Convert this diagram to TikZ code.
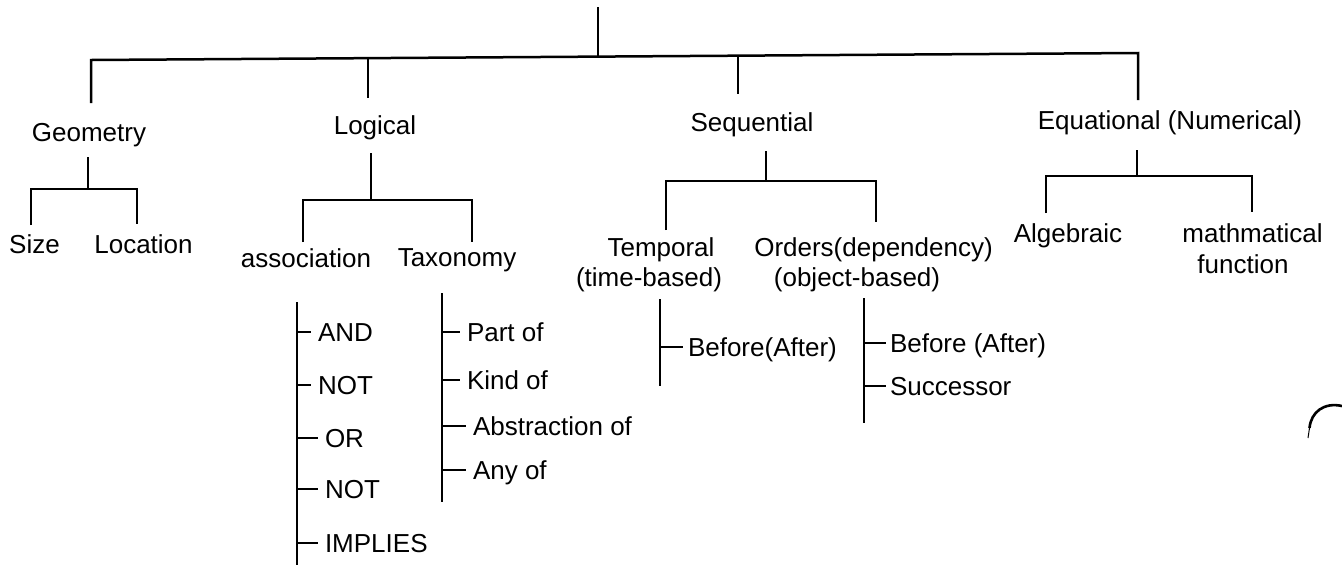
\documentclass[tikz,border=0pt]{standalone}
\usepackage{fontspec}
\setmainfont{Liberation Sans}
\begin{document}
\begin{tikzpicture}[x=1pt,y=-1pt,
  lbl/.style={font=\fontsize{26}{31}\selectfont, inner sep=0pt, outer sep=0pt},
  cat/.style={lbl, anchor=base},
  leaf/.style={lbl, text height=18.7pt, text depth=0pt, anchor=west},
  ln/.style={line width=2pt, line join=miter},
  bus/.style={line width=2.5pt, line join=miter},
  tick/.style={line width=2pt, shorten >=7pt},
]
\fill[white] (0,0) rectangle (1342,566);
\useasboundingbox (0,0) rectangle (1342,566);

% ---------- top level ----------
\coordinate (rootTop) at (598,7);
\coordinate (rootJ)   at (598,56.6);
\coordinate (geoJ)    at (91,60);
\coordinate (geoEnd)  at (91,103);
\coordinate (logJ)    at (368,58.1);
\coordinate (logEnd)  at (368,98);
\coordinate (seqJ)    at (738,55.7);
\coordinate (seqEnd)  at (738,94);
\coordinate (eqJ)     at (1138,53);
\coordinate (eqEnd)   at (1138,100);

\draw[ln]  (rootTop) -- (rootJ);
\draw[bus] (geoEnd) -- (geoJ) -- (eqJ) -- (eqEnd);
\draw[ln]  (logJ) -- (logEnd);
\draw[ln]  (seqJ) -- (seqEnd);

\node[cat] (geo) at (89,141)   {Geometry};
\node[cat] (log) at (375,134)  {Logical};
\node[cat] (seq) at (752,131)  {Sequential};
\node[cat] (eq)  at (1170,129) {Equational (Numerical)};

% ---------- Geometry ----------
\coordinate (geoSubTop) at (88,157);
\coordinate (geoSubJ)   at (88,189);
\coordinate (sizeJ)     at (31,189);
\coordinate (sizeEnd)   at (31,225);
\coordinate (locJ)      at (137,189);
\coordinate (locEnd)    at (137,224);
\draw[ln]  (geoSubTop) -- (geoSubJ);
\draw[bus] (sizeEnd) -- (sizeJ) -- (locJ) -- (locEnd);
\node[cat] (size) at (34.5,253) {Size};
\node[cat] (loc)  at (143.5,253) {Location};

% ---------- Logical ----------
\coordinate (logSubTop) at (371,153);
\coordinate (logSubJ)   at (371,200);
\coordinate (assocJ)    at (303,200);
\coordinate (assocEnd)  at (303,242);
\coordinate (taxJ)      at (472,200);
\coordinate (taxEnd)    at (472,242);
\draw[ln]  (logSubTop) -- (logSubJ);
\draw[bus] (assocEnd) -- (assocJ) -- (taxJ) -- (taxEnd);
\node[cat] (assoc) at (306,267) {association};
\node[cat] (tax)   at (457,266) {Taxonomy};

\coordinate (assocSpineTop) at (297,302);
\coordinate (assocSpineBot) at (297,565);
\draw[ln] (assocSpineTop) -- (assocSpineBot);
\node[leaf] (and)     at (318,332) {AND};
\node[leaf] (notA)    at (318,385) {NOT};
\node[leaf] (or)      at (325,438) {OR};
\node[leaf] (notB)    at (325,489) {NOT};
\node[leaf] (implies) at (325,543) {IMPLIES};
\foreach \n in {and,notA,or,notB,implies}
  \draw[tick] (\n.west -| assocSpineTop) -- (\n.west);

\coordinate (taxSpineTop) at (442,293);
\coordinate (taxSpineBot) at (442,502);
\draw[ln] (taxSpineTop) -- (taxSpineBot);
\node[leaf] (partof)  at (467,332) {Part of};
\node[leaf] (kindof)  at (467,380) {Kind of};
\node[leaf] (abstrof) at (473,426) {Abstraction of};
\node[leaf] (anyof)   at (473,470) {Any of};
\foreach \n in {partof,kindof,abstrof,anyof}
  \draw[tick] (\n.west -| taxSpineTop) -- (\n.west);

% ---------- Sequential ----------
\coordinate (seqSubTop) at (766,151);
\coordinate (seqSubJ)   at (766,181);
\coordinate (tempJ)     at (666,181);
\coordinate (tempEnd)   at (666,230);
\coordinate (ordJ)      at (876,181);
\coordinate (ordEnd)    at (876,222);
\draw[ln]  (seqSubTop) -- (seqSubJ);
\draw[bus] (tempEnd) -- (tempJ) -- (ordJ) -- (ordEnd);
\node[cat] (temporal)    at (661,256) {Temporal};
\node[cat] (temporalSub) at (649,286) {(time-based)};
\node[cat] (orders)      at (873.5,256) {Orders(dependency)};
\node[cat] (ordersSub)   at (857,286) {(object-based)};

\coordinate (tempSpineTop) at (660,299);
\coordinate (tempSpineBot) at (660,386);
\draw[ln] (tempSpineTop) -- (tempSpineBot);
\node[leaf] (beforeT) at (688,347) {Before(After)};
\draw[tick, shorten >=5pt] (beforeT.west -| tempSpineTop) -- (beforeT.west);

\coordinate (ordSpineTop) at (864,298);
\coordinate (ordSpineBot) at (864,423);
\draw[ln] (ordSpineTop) -- (ordSpineBot);
\node[leaf] (beforeO)   at (890,343) {Before (After)};
\node[leaf] (successor) at (890,386) {Successor};
\foreach \n in {beforeO,successor}
  \draw[tick, shorten >=4pt] (\n.west -| ordSpineTop) -- (\n.west);

% ---------- Equational ----------
\coordinate (eqSubTop) at (1137,150);
\coordinate (eqSubJ)   at (1137,176);
\coordinate (algJ)     at (1046,176);
\coordinate (algEnd)   at (1046,213);
\coordinate (mathJ)    at (1252,176);
\coordinate (mathEnd)  at (1252,212);
\draw[ln]  (eqSubTop) -- (eqSubJ);
\draw[bus] (algEnd) -- (algJ) -- (mathJ) -- (mathEnd);
\node[cat] (alg)     at (1068,242) {Algebraic};
\node[cat] (math)    at (1252.5,242) {mathmatical};
\node[cat] (mathSub) at (1243,273) {function};

% ---------- mark at the right edge ----------
\draw[line width=1pt] (1308,438) -- (1309.5,428);
\draw[line width=2.6pt] (1309.5,428) .. controls (1311,412) and (1324,402) .. (1342,406);
\end{tikzpicture}
\end{document}
